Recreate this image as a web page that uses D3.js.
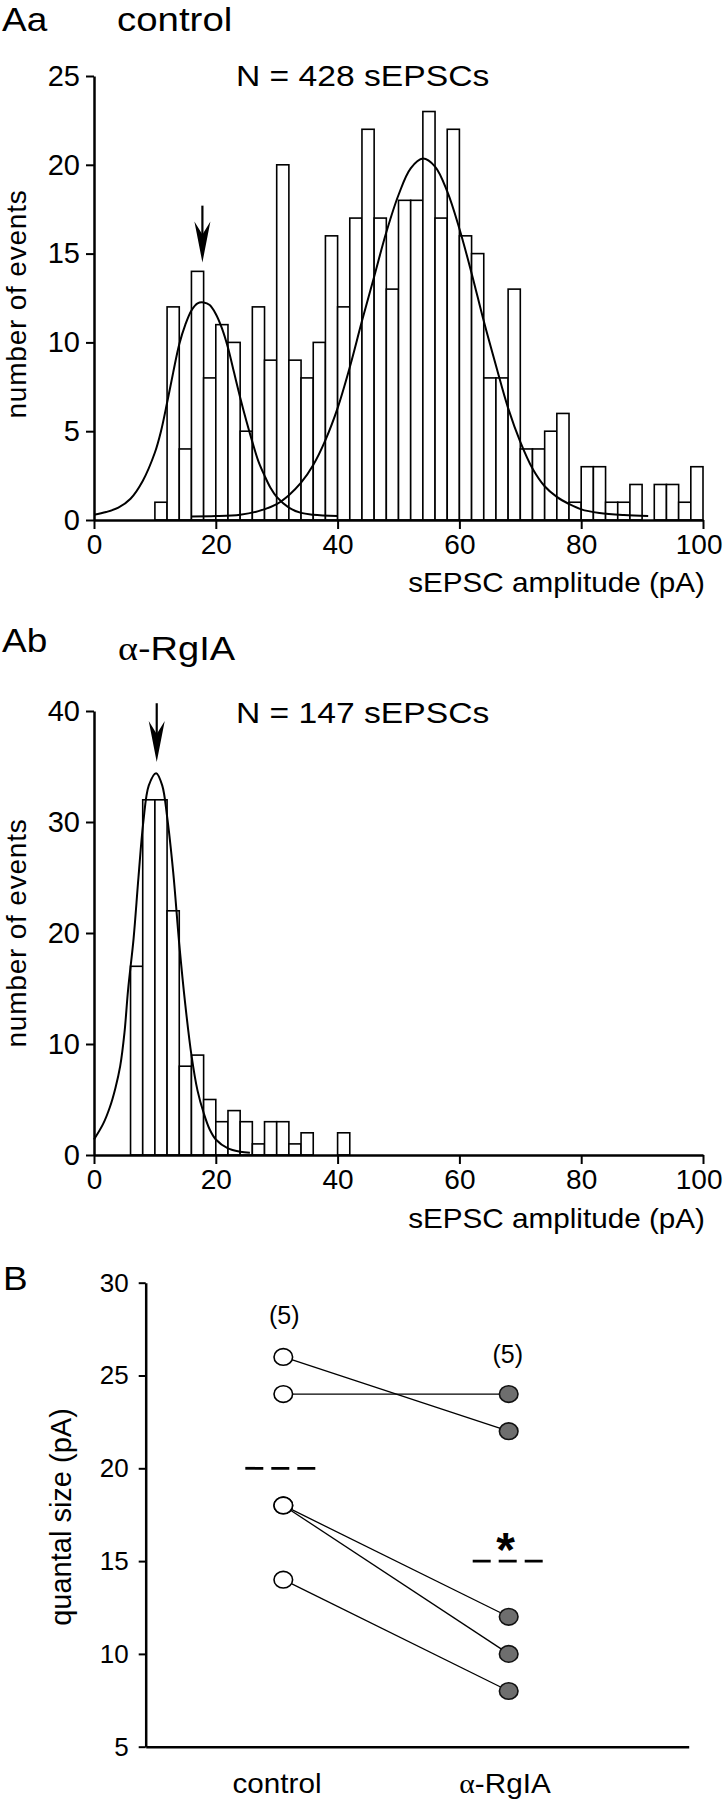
<!DOCTYPE html>
<html><head><meta charset="utf-8">
<script src="https://cdn.jsdelivr.net/npm/d3@7"></script>
<style>
body{margin:0;background:#fff;}
svg{display:block;}
text{font-family:"Liberation Sans",Arial,Helvetica,sans-serif;fill:#000;}
</style>
</head><body>
<svg id="c" width="724" height="1800"></svg>
<script>
// ---------------- DATA ----------------
const binWidth = 2; // pA
// Aa control histogram: counts per 2-pA bin, starting at 0 pA
const controlCounts = [0,0,0,0,0,1,12,4,14,8,11,10,5,12,9,20,9,8,10,16,12,17,22,17,13,18,18,23,17,22,16,15,8,8,13,4,4,5,6,1,3,3,1,1,2,0,2,2,1,3];
// Ab alpha-RgIA histogram: counts per 2-pA bin, starting at 0 pA
const rgiaCounts = [0,0,0,17,32,32,22,8,9,5,3,4,3,1,3,3,1,2,0,0,2];
// fitted curves  [amplitude pA, events]
const controlFit1 = [[0,0.3],[2,0.45],[4,0.7],[6,1.2],[8,2.2],[10,3.8],[11,5.0],[12,6.6],[13,8.3],[14,9.9],[15,11.0],[16,11.8],[17,12.2],[18,12.25],[19,12.1],[20,11.6],[21,10.8],[22,9.7],[23,8.3],[24,6.9],[25,5.6],[26,4.4],[27,3.3],[28,2.5],[29,1.8],[30,1.3],[32,0.7],[34,0.4],[36,0.3],[40,0.22]];
const controlFit2 = [[16,0.2],[20,0.22],[24,0.3],[27,0.5],[30,0.9],[32,1.4],[34,2.1],[36,3.1],[38,4.5],[40,6.3],[42,8.6],[44,11.2],[46,13.7],[48,16.2],[50,18.3],[52,19.8],[54,20.35],[56,19.9],[58,18.5],[60,16.4],[62,13.9],[64,11.2],[66,8.7],[68,6.3],[70,4.4],[72,2.9],[74,1.9],[76,1.3],[78,0.9],[80,0.6],[83,0.4],[87,0.28],[91,0.22]];
const rgiaFit = [[0,1.4],[1.5,2.8],[2.6,4.3],[3.5,6],[4.3,8],[5,11],[5.6,14.9],[6.5,19.5],[7.3,25],[8.1,30],[9,33.3],[10.2,34.4],[11.2,33.3],[12,30.5],[13,25.5],[14,19],[15,13.5],[16,9],[17,5.8],[18,3.8],[19,2.3],[20,1.4],[22,0.6],[24,0.3],[25.6,0.2]];
// arrows marking quantal peak [x pA, top events, tip events]
const controlArrow = [17.8, 17.7, 14.5];
const rgiaArrow = [10.3, 40.7, 35.4];
// tick values
const ampTicks = [0,20,40,60,80,100];
const controlYTicks = [0,5,10,15,20,25];
const rgiaYTicks = [0,10,20,30,40];
const quantalTicks = [5,10,15,20,25,30];
// Panel B
const groups = ["control","α-RgIA"];
const quantalControl = [26,24,18,18,14];
const quantalRgIA = [22,24,12,10,8];
const groupMeans = [20,15];
const groupN = ["(5)","(5)"];

// ---------------- DRAW ----------------
const svg = d3.select("#c");

function txt(x, y, str, size, o={}) {
  const t = svg.append("text")
    .attr("transform", `translate(${x},${y}) scale(${o.sx||1},1)${o.rot?` rotate(${o.rot})`:""}`)
    .attr("font-size", size)
    .attr("text-anchor", o.anchor||"start");
  if (o.weight) t.attr("font-weight", o.weight);
  if (o.ls) t.attr("letter-spacing", o.ls);
  if (str.startsWith("α")) {
    t.append("tspan").attr("font-family","'Liberation Serif','Times New Roman',serif").text("α");
    t.append("tspan").text(str.slice(1));
  } else t.text(str);
  return t;
}

function styleAxis(g, fs) {
  g.selectAll(".domain").attr("stroke","#000").attr("stroke-width",2.5);
  g.selectAll(".tick line").attr("stroke","#000").attr("stroke-width",2);
  g.selectAll(".tick text").attr("font-size",fs).attr("font-family","'Liberation Sans',Arial,sans-serif").attr("fill","#000");
  g.attr("font-family",null).attr("font-size",null);
}

function histogram(counts, fits, arrow, yDomMax, yTicks, yTop, yBottom) {
  const x = d3.scaleLinear().domain([0,100]).range([94,703]);
  const y = d3.scaleLinear().domain([0,yDomMax]).range([yBottom,yTop]);
  const g = svg.append("g");
  g.selectAll("rect").data(counts.map((c,i)=>({x0:i*binWidth,c})).filter(d=>d.c>0))
    .join("rect")
    .attr("x", d=>x(d.x0)).attr("width", x(binWidth)-x(0))
    .attr("y", d=>y(d.c)).attr("height", d=>y(0)-y(d.c))
    .attr("fill","#fff").attr("stroke","#000").attr("stroke-width",1.6);
  const line = d3.line().x(d=>x(d[0])).y(d=>y(d[1])).curve(d3.curveCatmullRom);
  fits.forEach(f=>g.append("path").attr("d",line(f)).attr("fill","none").attr("stroke","#000").attr("stroke-width",2));
  // arrow
  const ax = x(arrow[0]), at = y(arrow[1]), tip = y(arrow[2]);
  const headTop = tip - 41;
  g.append("line").attr("x1",ax).attr("x2",ax).attr("y1",at).attr("y2",headTop+14).attr("stroke","#000").attr("stroke-width",2.2);
  g.append("path").attr("d",`M${ax-8},${headTop} L${ax},${tip} L${ax+8},${headTop} L${ax},${headTop+13} Z`).attr("fill","#000");
  // axes
  const gx = svg.append("g").attr("transform",`translate(0,${yBottom})`)
    .call(d3.axisBottom(x).tickValues(ampTicks).tickSize(9).tickSizeOuter(0).tickPadding(5));
  styleAxis(gx, 28);
  // keep the last label inside the page
  gx.selectAll(".tick text").filter(d=>d===100).attr("text-anchor","end").attr("x",19);
  const gy = svg.append("g").attr("transform",`translate(94,0)`)
    .call(d3.axisLeft(y).tickValues(yTicks).tickSize(8).tickSizeOuter(0).tickPadding(6));
  styleAxis(gy, 29);
  return {x,y};
}

// Panel Aa
txt(2, 31, "Aa", 33, {sx:1.12});
txt(117, 31, "control", 34, {sx:1.13});
txt(236, 86, "N = 428 sEPSCs", 29, {sx:1.16});
histogram(controlCounts, [controlFit1, controlFit2], controlArrow, 25, controlYTicks, 76, 520);
txt(26, 304, "number of events", 28, {rot:-90, anchor:"middle", ls:0.8});
txt(705, 592, "sEPSC amplitude (pA)", 28, {anchor:"end", sx:1.06});

// Panel Ab
txt(2, 652, "Ab", 33, {sx:1.12});
txt(118, 660, "α-RgIA", 34, {sx:1.12});
txt(236, 723, "N = 147 sEPSCs", 29, {sx:1.16});
histogram(rgiaCounts, [rgiaFit], rgiaArrow, 40, rgiaYTicks, 711, 1155);
txt(26, 933, "number of events", 28, {rot:-90, anchor:"middle", ls:0.8});
txt(705, 1228, "sEPSC amplitude (pA)", 28, {anchor:"end", sx:1.06});

// Panel B
txt(3, 1290, "B", 33, {sx:1.12});
const yB = d3.scaleLinear().domain([5,30]).range([1746.7,1282.7]);
const xB = d3.scalePoint().domain(groups).range([283.3,508.7]);
const xAxisB = d3.scaleLinear().domain([0,1]).range([145.7,688.7]);
const gB = svg.append("g");
// pair lines
quantalControl.forEach((v,i)=>{
  gB.append("line")
    .attr("x1",xB(groups[0])).attr("y1",yB(v))
    .attr("x2",xB(groups[1])).attr("y2",yB(quantalRgIA[i]))
    .attr("stroke","#000").attr("stroke-width",1.3);
});
// means
groupMeans.forEach((m,i)=>{
  const cx = xB(groups[i]) - (i===0?2:0);
  gB.append("line").attr("x1",cx-36).attr("x2",cx+36).attr("y1",yB(m)).attr("y2",yB(m))
    .attr("stroke","#000").attr("stroke-width",2.8).attr("stroke-dasharray","18 8");
});
gB.selectAll("ellipse.c").data(quantalControl).join("ellipse").attr("class","c")
  .attr("cx",xB(groups[0])).attr("cy",d=>yB(d)).attr("rx",9.3).attr("ry",8.3)
  .attr("fill","#fff").attr("stroke","#000").attr("stroke-width",1.6);
gB.selectAll("ellipse.r").data(quantalRgIA).join("ellipse").attr("class","r")
  .attr("cx",xB(groups[1])).attr("cy",d=>yB(d)).attr("rx",9.3).attr("ry",8.3)
  .attr("fill","#6e6e6e").attr("stroke","#111").attr("stroke-width",1.6);
// n labels
txt(xB(groups[0])+1, 1324, groupN[0], 25, {anchor:"middle"});
txt(xB(groups[1])-1, 1363, groupN[1], 25, {anchor:"middle"});
// significance
txt(xB(groups[1])-3, 1566, "*", 48, {anchor:"middle", weight:"bold"});
// axes
const gBy = svg.append("g").attr("transform","translate(145.7,0)")
  .call(d3.axisLeft(yB).tickValues(quantalTicks).tickSize(7).tickSizeOuter(0).tickPadding(10));
styleAxis(gBy, 26);
const gBx = svg.append("g").attr("transform",`translate(0,${yB(5)})`)
  .call(d3.axisBottom(xAxisB).tickValues([]).tickSizeOuter(0));
styleAxis(gBx, 26);
txt(71, 1517, "quantal size (pA)", 29, {rot:-90, anchor:"middle"});
txt(277, 1793, "control", 28, {anchor:"middle", sx:1.06});
txt(505, 1793, "α-RgIA", 28, {anchor:"middle", sx:1.06});
</script>
</body></html>
